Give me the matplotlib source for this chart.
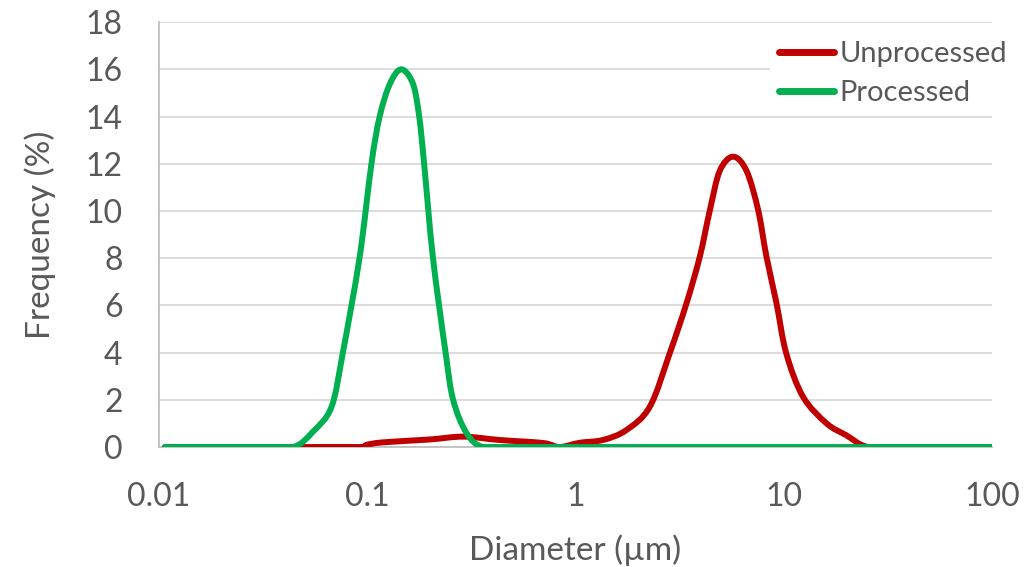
import numpy as np
import matplotlib.pyplot as plt
from matplotlib.path import Path
from matplotlib.patches import PathPatch
from matplotlib.lines import Line2D

# diameter (um) and frequency (%)
unproc_d = [0.0107, 0.02, 0.05, 0.092, 0.1, 0.12, 0.2, 0.29, 0.43, 0.7, 0.84,
            1.05, 1.36, 1.76, 2.28, 2.84, 3.42, 3.96, 4.43, 4.94, 5.73,
            6.64, 7.55, 8.28, 9.25, 10.3, 12.4, 16.1, 20.0, 25.5, 40.0, 100.0]
unproc_f = [0.0, 0.0, 0.0, 0.0, 0.1, 0.2, 0.32, 0.44, 0.3, 0.17, 0.0,
            0.18, 0.3, 0.72, 1.71, 3.97, 6.09, 8.06, 10.04, 11.7, 12.3,
            11.7, 10.04, 8.06, 6.09, 3.97, 2.13, 1.0, 0.5, 0.0, 0.0, 0.0]

proc_d = [0.0107, 0.03, 0.0442, 0.055, 0.0675, 0.0767, 0.0922, 0.105, 0.115,
          0.129, 0.146, 0.166, 0.178, 0.188, 0.207, 0.238, 0.259, 0.301,
          0.36, 0.5, 1.0, 10.0, 100.0]
proc_f = [0.0, 0.0, 0.0, 0.65, 1.7, 4.04, 8.06, 12.0, 14.0, 15.4, 16.0, 15.4,
          14.0, 12.0, 8.06, 4.04, 2.0, 0.58, 0.0, 0.0, 0.0, 0.0, 0.0]

RED = '#C00000'
GREEN = '#00B050'
GREY = '#595959'


def smooth_path(d, f):
    # smoothed line like excel: bezier segments through the points (log x)
    lx = np.log10(d)
    y = np.array(f, dtype=float)
    n = len(lx)
    verts = [(d[0], y[0])]
    codes = [Path.MOVETO]
    for i in range(n - 1):
        i0 = max(i - 1, 0)
        i3 = min(i + 2, n - 1)
        c1x = lx[i] + (lx[i + 1] - lx[i0]) / 6
        c1y = y[i] + (y[i + 1] - y[i0]) / 6
        c2x = lx[i + 1] - (lx[i3] - lx[i]) / 6
        c2y = y[i + 1] - (y[i3] - y[i]) / 6
        verts += [(10 ** c1x, max(c1y, 0)), (10 ** c2x, max(c2y, 0)),
                  (d[i + 1], y[i + 1])]
        codes += [Path.CURVE4] * 3
    return Path(verts, codes)


plt.rcParams['font.family'] = ['Lato', 'DejaVu Sans']

fig = plt.figure(figsize=(10.31, 5.67), dpi=100)
ax = fig.add_axes([0.154, 0.2116, 0.808, 0.7494])

ax.add_patch(PathPatch(smooth_path(unproc_d, unproc_f), facecolor='none',
                       edgecolor=RED, lw=4.3, capstyle='round',
                       joinstyle='round', zorder=3))
ax.add_patch(PathPatch(smooth_path(proc_d, proc_f), facecolor='none',
                       edgecolor=GREEN, lw=4.3, capstyle='round',
                       joinstyle='round', zorder=4))

ax.set_xscale('log')
ax.set_xlim(0.01, 100)
ax.set_ylim(0, 18)
ax.set_yticks(range(0, 19, 2))
ax.set_xticks([0.01, 0.1, 1, 10, 100])
ax.set_xticklabels(['0.01', '0.1', '1', '10', '100'])
ax.minorticks_off()

ax.grid(axis='y', color='#D9D9D9', lw=1.3)
ax.set_axisbelow(True)
for s in ['top', 'right']:
    ax.spines[s].set_visible(False)
for s in ['left', 'bottom']:
    ax.spines[s].set_color('#BFBFBF')
    ax.spines[s].set_linewidth(1.3)

ax.tick_params(axis='both', length=0, labelsize=23, labelcolor=GREY)
ax.tick_params(axis='x', pad=25)
ax.tick_params(axis='y', pad=26)

ax.set_xlabel('Diameter (µm)', fontsize=24, color=GREY, labelpad=16)
ax.set_ylabel('Frequency (%)', fontsize=24, color=GREY, labelpad=21)

handles = [Line2D([], [], color=RED, lw=5, solid_capstyle='round'),
           Line2D([], [], color=GREEN, lw=5, solid_capstyle='round')]
leg = ax.legend(handles, ['Unprocessed', 'Processed'], loc='upper right',
                bbox_to_anchor=(0.985, 0.943), bbox_transform=fig.transFigure,
                fontsize=21, frameon=True, facecolor='white', edgecolor='none',
                framealpha=1, handlelength=1.9, handletextpad=0.17,
                labelspacing=0.45, borderaxespad=0.0, borderpad=0.3)
for t in leg.get_texts():
    t.set_color(GREY)

fig.savefig('out.png', dpi=100)
